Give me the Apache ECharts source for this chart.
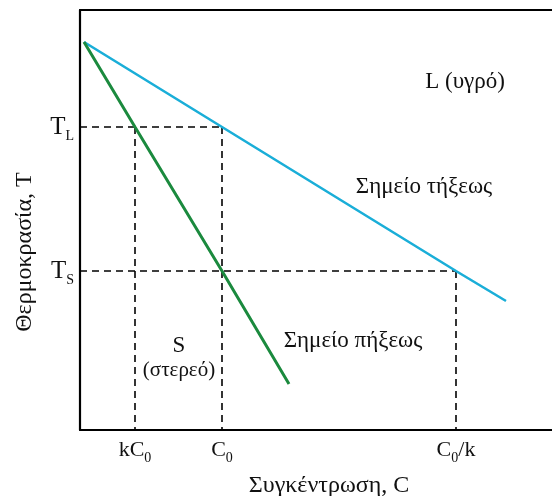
<!DOCTYPE html>
<html>
<head>
<meta charset="utf-8">
<script src="https://cdn.jsdelivr.net/npm/echarts@6/dist/echarts.min.js"></script>
<style>html,body{margin:0;padding:0;background:#fff}#c{width:552px;height:496px}</style>
</head>
<body>
<div id="c"></div>
<script>
// Concentration positions (x) and temperatures (y), in chart units
const xTickValues = [55, 142, 376];
const xTickLabels = ['{m|kC}{s|0}', '{m|C}{s|0}', '{m|C}{s|0}{m|/k}'];
const yTickValues = [159, 303];
const yTickLabels = ['{t|T}{s|S}', '{t|T}{s|L}'];
const liquidus = [[4, 388], [142, 303], [376, 159], [426, 129]]; // Σημείο τήξεως
const solidus = [[4, 388], [55, 303], [142, 159], [209, 46]];   // Σημείο πήξεως
const xName = 'Συγκέντρωση, C';
const yName = 'Θερμοκρασία, T';

const TS = yTickValues[0], TL = yTickValues[1];
const kC0 = xTickValues[0], C0 = xTickValues[1], C0k = xTickValues[2];
const guides = [
  [[0, TL], [C0, TL]],
  [[kC0, TL], [kC0, 0]],
  [[C0, TL], [C0, 0]],
  [[0, TS], [C0k, TS]],
  [[C0k, TS], [C0k, 0]]
];

const FONT = '"Liberation Serif", "DejaVu Serif", serif';
const chart = echarts.init(document.getElementById('c'), null, {renderer: 'canvas'});
const dashStyle = {color: '#000', width: 1.6, type: [7, 5]};

const series = guides.map(g => ({
  type: 'line', data: g, symbol: 'none', silent: true, animation: false,
  lineStyle: dashStyle, z: 1
}));
series.push({
  type: 'line', data: liquidus, symbol: 'none', animation: false,
  lineStyle: {color: '#1aaed8', width: 2.6}, z: 3
});
series.push({
  type: 'line', data: solidus, symbol: 'none', animation: false,
  lineStyle: {color: '#1b8a3e', width: 3}, z: 3
});

const txt = (x, y, text, extra) => Object.assign({
  type: 'text', x: x, y: y,
  style: Object.assign({text: text, font: '23px ' + FONT, fill: '#111', align: 'center', verticalAlign: 'middle'}, extra || {})
});

chart.setOption({
  animation: false,
  grid: {left: 80, right: 0, top: 10, bottom: 66},
  xAxis: [{
    type: 'value', min: 0, max: 472, position: 'bottom',
    axisLine: {show: true, onZero: false, lineStyle: {color: '#000', width: 2.2}},
    axisTick: {show: false}, splitLine: {show: false},
    axisLabel: {
      show: true, customValues: xTickValues, margin: 5,
      formatter: v => xTickLabels[xTickValues.indexOf(v)],
      rich: {
        m: {fontFamily: FONT, fontSize: 22, color: '#111', lineHeight: 30, verticalAlign: 'middle'},
        s: {fontFamily: FONT, fontSize: 14, color: '#111', lineHeight: 14, verticalAlign: 'bottom'}
      }
    }
  }, {
    type: 'value', min: 0, max: 472, position: 'top',
    axisLine: {show: true, onZero: false, lineStyle: {color: '#000', width: 2.2}},
    axisTick: {show: false}, splitLine: {show: false}, axisLabel: {show: false}
  }],
  yAxis: {
    type: 'value', min: 0, max: 420,
    axisLine: {show: true, onZero: false, lineStyle: {color: '#000', width: 2.2}},
    axisTick: {show: false}, splitLine: {show: false},
    axisLabel: {
      show: true, customValues: yTickValues, margin: 6,
      formatter: v => yTickLabels[yTickValues.indexOf(v)],
      rich: {
        t: {fontFamily: FONT, fontSize: 25, color: '#111', lineHeight: 32, verticalAlign: 'middle'},
        s: {fontFamily: FONT, fontSize: 14, color: '#111', lineHeight: 14, verticalAlign: 'bottom'}
      }
    }
  },
  series: series,
  graphic: [
    txt(329, 486, xName, {font: '24px ' + FONT}),
    Object.assign(txt(25, 252, yName, {font: '24px ' + FONT}), {rotation: Math.PI / 2}),
    txt(465, 82, 'L (υγρό)'),
    txt(424, 187, 'Σημείο τήξεως'),
    txt(353, 341, 'Σημείο πήξεως'),
    txt(179, 346, 'S'),
    txt(179, 370, '(στερεό)', {font: '21px ' + FONT})
  ]
});
</script>
</body>
</html>
